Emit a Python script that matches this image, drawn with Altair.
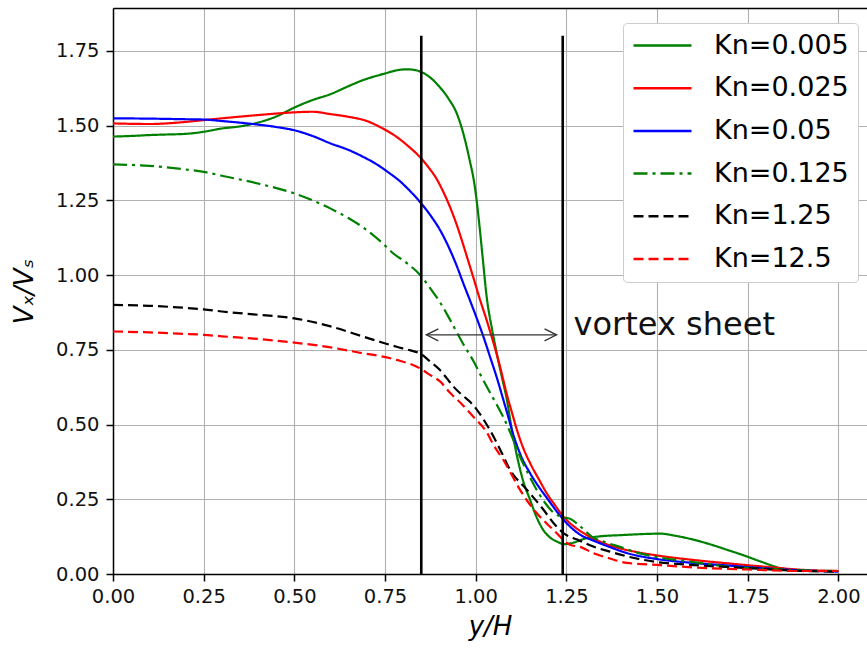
import altair as alt
import pandas as pd

# ---------------- data ----------------
series_names = ["Kn=0.005", "Kn=0.025", "Kn=0.05", "Kn=0.125", "Kn=1.25", "Kn=12.5"]
series_colors = ["#008000", "#ff0000", "#0000ff", "#008000", "#000000", "#ff0000"]
series_dash = [[1, 0], [1, 0], [1, 0], [14, 5, 3, 5], [10, 5], [10, 5]]

kn0005_x = [0, 0.05, 0.1, 0.15, 0.2, 0.25, 0.3, 0.35, 0.4, 0.45, 0.5, 0.55, 0.6, 0.65, 0.69, 0.75, 0.78, 0.81, 0.83, 0.85,
            0.875, 0.9, 0.925, 0.948, 0.962, 0.975, 0.985, 0.993, 1.0, 1.01, 1.02, 1.03, 1.045, 1.058, 1.072, 1.086, 1.1,
            1.113, 1.13, 1.15, 1.168, 1.186, 1.205, 1.223, 1.245, 1.27, 1.3, 1.343, 1.4, 1.45, 1.508, 1.55, 1.6, 1.65,
            1.693, 1.74, 1.785, 1.84, 1.9, 1.95, 2.0]
kn0005_y = [1.463, 1.465, 1.468, 1.47, 1.472, 1.479, 1.49, 1.497, 1.51, 1.53, 1.56, 1.585, 1.605, 1.632, 1.652, 1.674, 1.684,
            1.688, 1.686, 1.679, 1.66, 1.63, 1.59, 1.54, 1.49, 1.43, 1.375, 1.33, 1.275, 1.17, 1.05, 0.93, 0.82, 0.739,
            0.66, 0.583, 0.48, 0.4, 0.315, 0.248, 0.19, 0.148, 0.122, 0.109, 0.1, 0.105, 0.118, 0.126, 0.13, 0.133,
            0.135, 0.128, 0.115, 0.098, 0.081, 0.062, 0.042, 0.02, 0.012, 0.01, 0.01]

kn0025_x = [0, 0.1, 0.2, 0.25, 0.3, 0.4, 0.45, 0.5, 0.55, 0.6, 0.65, 0.7, 0.736, 0.782, 0.815, 0.846, 0.87, 0.892, 0.91,
            0.929, 0.95, 0.966, 0.98, 0.993, 1.01, 1.03, 1.045, 1.058, 1.072, 1.086, 1.1, 1.113, 1.13, 1.15, 1.175, 1.196,
            1.22, 1.242, 1.27, 1.3, 1.35, 1.4, 1.45, 1.5, 1.6, 1.7, 1.8, 1.9, 2.0]
kn0025_y = [1.507, 1.505, 1.512, 1.518, 1.524, 1.535, 1.54, 1.544, 1.546, 1.538, 1.529, 1.515, 1.495, 1.462, 1.43, 1.395,
            1.36, 1.322, 1.28, 1.228, 1.16, 1.1, 1.045, 0.994, 0.925, 0.85, 0.79, 0.735, 0.67, 0.6, 0.54, 0.485, 0.425,
            0.371, 0.315, 0.27, 0.228, 0.192, 0.16, 0.135, 0.105, 0.085, 0.072, 0.062, 0.047, 0.035, 0.024, 0.014, 0.01]

kn005_x = [0, 0.1, 0.2, 0.25, 0.3, 0.37, 0.45, 0.5, 0.55, 0.6, 0.65, 0.69, 0.73, 0.763, 0.79, 0.81, 0.846, 0.875, 0.901,
           0.925, 0.948, 0.965, 0.984, 1.0, 1.021, 1.04, 1.058, 1.075, 1.09, 1.104, 1.125, 1.15, 1.175, 1.196, 1.22,
           1.251, 1.29, 1.324, 1.37, 1.417, 1.5, 1.6, 1.7, 1.785, 1.9, 2.0]
kn005_y = [1.524, 1.523, 1.521, 1.52, 1.515, 1.507, 1.495, 1.484, 1.465, 1.44, 1.418, 1.395, 1.368, 1.34, 1.315, 1.292,
           1.245, 1.2, 1.152, 1.095, 1.03, 0.975, 0.916, 0.865, 0.795, 0.725, 0.658, 0.588, 0.525, 0.465, 0.395, 0.337,
           0.29, 0.255, 0.215, 0.17, 0.13, 0.112, 0.09, 0.07, 0.05, 0.037, 0.028, 0.02, 0.012, 0.008]

kn0125_x = [0, 0.1, 0.2, 0.25, 0.3, 0.4, 0.5, 0.55, 0.6, 0.65, 0.7, 0.74, 0.773, 0.81, 0.85, 0.875, 0.901, 0.925, 0.948,
            0.97, 0.993, 1.015, 1.039, 1.06, 1.076, 1.1, 1.122, 1.145, 1.168, 1.19, 1.215, 1.24, 1.26, 1.288, 1.32,
            1.36, 1.4, 1.45, 1.508, 1.6, 1.693, 1.8, 1.9, 2.0]
kn0125_y = [1.37, 1.365, 1.353, 1.345, 1.332, 1.306, 1.273, 1.25, 1.222, 1.19, 1.15, 1.11, 1.072, 1.04, 0.996, 0.955,
            0.91, 0.86, 0.808, 0.76, 0.714, 0.662, 0.608, 0.562, 0.525, 0.46, 0.393, 0.335, 0.282, 0.24, 0.205, 0.19,
            0.185, 0.16, 0.125, 0.105, 0.09, 0.07, 0.055, 0.04, 0.025, 0.018, 0.012, 0.01]

kn125_x = [0, 0.1, 0.2, 0.25, 0.3, 0.4, 0.5, 0.6, 0.69, 0.74, 0.782, 0.82, 0.846, 0.875, 0.901, 0.92, 0.94, 0.966, 0.985,
           1.003, 1.02, 1.039, 1.07, 1.095, 1.141, 1.187, 1.215, 1.242, 1.28, 1.324, 1.37, 1.417, 1.5, 1.6, 1.75, 1.9,
           2.0]
kn125_y = [0.9, 0.897, 0.89, 0.885, 0.878, 0.867, 0.855, 0.828, 0.794, 0.775, 0.76, 0.748, 0.738, 0.71, 0.683, 0.655,
           0.625, 0.595, 0.575, 0.55, 0.52, 0.482, 0.41, 0.348, 0.282, 0.215, 0.17, 0.137, 0.115, 0.092, 0.075, 0.059,
           0.04, 0.03, 0.02, 0.01, 0.008]

kn125b_x = [0, 0.1, 0.2, 0.25, 0.3, 0.4, 0.5, 0.6, 0.69, 0.74, 0.782, 0.846, 0.875, 0.901, 0.93, 0.96, 0.993, 1.01, 1.03,
            1.05, 1.076, 1.1, 1.122, 1.145, 1.168, 1.195, 1.223, 1.245, 1.26, 1.29, 1.324, 1.37, 1.417, 1.508, 1.6,
            1.75, 1.9, 2.0]
kn125b_y = [0.811, 0.808, 0.803, 0.8, 0.795, 0.786, 0.774, 0.758, 0.738, 0.728, 0.716, 0.688, 0.665, 0.645, 0.605, 0.57,
            0.527, 0.505, 0.475, 0.43, 0.382, 0.33, 0.282, 0.24, 0.204, 0.17, 0.137, 0.11, 0.098, 0.09, 0.07, 0.052,
            0.037, 0.03, 0.022, 0.015, 0.01, 0.01]

series_x = [kn0005_x, kn0025_x, kn005_x, kn0125_x, kn125_x, kn125b_x]
series_y = [kn0005_y, kn0025_y, kn005_y, kn0125_y, kn125_y, kn125b_y]

sheet_x = [0.85, 1.24]
sheet_y0 = [0.0, 0.0]
sheet_y1 = [1.8, 1.8]

arrow_x0 = [0.864]
arrow_x1 = [1.223]
arrow_y = [0.8]
label_x = [1.27]
label_y = [0.8]
label_text = ["vortex sheet"]

tick_vals = [0, 0.25, 0.5, 0.75, 1.0, 1.25, 1.5, 1.75, 2.0]
ytick_vals = [0, 0.25, 0.5, 0.75, 1.0, 1.25, 1.5, 1.75]

# ---------------- tables ----------------
rows = []
for name, xs, ys in zip(series_names, series_x, series_y):
    for xv, yv in zip(xs, ys):
        rows.append({"series": name, "x": xv, "y": yv})
df = pd.DataFrame(rows)
sheet_df = pd.DataFrame({"x": sheet_x, "y0": sheet_y0, "y1": sheet_y1})
arrow_df = pd.DataFrame({"x0": arrow_x0, "x1": arrow_x1, "y": arrow_y})
label_df = pd.DataFrame({"x": label_x, "y": label_y, "t": label_text})

FONT = "DejaVu Sans"
xscale = alt.Scale(domain=[0, 2.079], nice=False, zero=False)
yscale = alt.Scale(domain=[0, 1.893], nice=False, zero=False)

xaxis = alt.Axis(values=tick_vals, format=".2f", title="y/H", titleFontStyle="italic",
                 titleFontSize=26, titleFont=FONT, titleFontWeight="normal", titleColor="black",
                 titlePadding=8, labelFontSize=19.5, labelFont=FONT, labelColor="#111",
                 labelPadding=6, tickSize=7, tickColor="black", tickWidth=1.5,
                 domainColor="black", domainWidth=1.5, grid=True, gridColor="#b0b0b0", gridWidth=1.1,
                 labelFlush=False)
yaxis = alt.Axis(values=ytick_vals, format=".2f", title="Vₓ/Vₛ", titleFontStyle="italic",
                 titleFontSize=26, titleFont=FONT, titleFontWeight="normal", titleColor="black",
                 titlePadding=18, labelFontSize=19.5, labelFont=FONT, labelColor="#111",
                 labelPadding=7, tickSize=7, tickColor="black", tickWidth=1.5,
                 domainColor="black", domainWidth=1.5, grid=True, gridColor="#b0b0b0", gridWidth=1.1,
                 labelFlush=False)

legend = alt.Legend(title=None, orient="none", legendX=510, legendY=15, symbolType="stroke",
                    symbolSize=3364, symbolStrokeWidth=2.5, labelFontSize=27, labelFont=FONT,
                    labelColor="black", labelOffset=21, rowPadding=14.7, clipHeight=27, padding=9,
                    fillColor="white", strokeColor="#cccccc", cornerRadius=4, labelLimit=400)

lines = alt.Chart(df).mark_line(strokeWidth=2.2, interpolate="monotone").encode(
    x=alt.X("x:Q", scale=xscale, axis=xaxis),
    y=alt.Y("y:Q", scale=yscale, axis=yaxis),
    color=alt.Color("series:N", scale=alt.Scale(domain=series_names, range=series_colors),
                    sort=series_names, legend=legend),
    strokeDash=alt.StrokeDash("series:N", scale=alt.Scale(domain=series_names, range=series_dash),
                              sort=series_names, legend=legend),
)

sheets = alt.Chart(sheet_df).mark_rule(color="black", strokeWidth=2.6).encode(
    x="x:Q", y="y0:Q", y2="y1:Q")

arrow_line = alt.Chart(arrow_df).mark_rule(color="#333333", strokeWidth=1.3).encode(
    x="x0:Q", x2="x1:Q", y="y:Q")
arrow_left = alt.Chart(arrow_df).mark_point(shape="M2,-1L0,0L2,1", size=144, filled=False,
                                            color="#333333", strokeWidth=1.3, opacity=1).encode(
    x="x0:Q", y="y:Q")
arrow_right = alt.Chart(arrow_df).mark_point(shape="M-2,-1L0,0L-2,1", size=144, filled=False,
                                             color="#333333", strokeWidth=1.3, opacity=1).encode(
    x="x1:Q", y="y:Q")
label = alt.Chart(label_df).mark_text(align="left", baseline="alphabetic", fontSize=32, font=FONT,
                                      color="#111111").encode(x="x:Q", y="y:Q", text="t:N")

inner = alt.layer(lines, sheets, arrow_line, arrow_left, arrow_right, label)

frame = alt.Chart(sheet_df).mark_rule(opacity=0).encode(
    x=alt.X("x:Q", scale=xscale,
            axis=alt.Axis(orient="top", labels=False, ticks=False, grid=False, title=None,
                          domainColor="black", domainWidth=1.5)))

chart = alt.layer(inner, frame).resolve_axis(x="independent").properties(
    width=754, height=566,
    padding={"left": 113, "top": 8, "right": 0, "bottom": 77},
    autosize="none",
).configure_view(stroke=None).configure(background="white")

chart.save("out.html", embed_options={"renderer": "svg", "actions": False})
